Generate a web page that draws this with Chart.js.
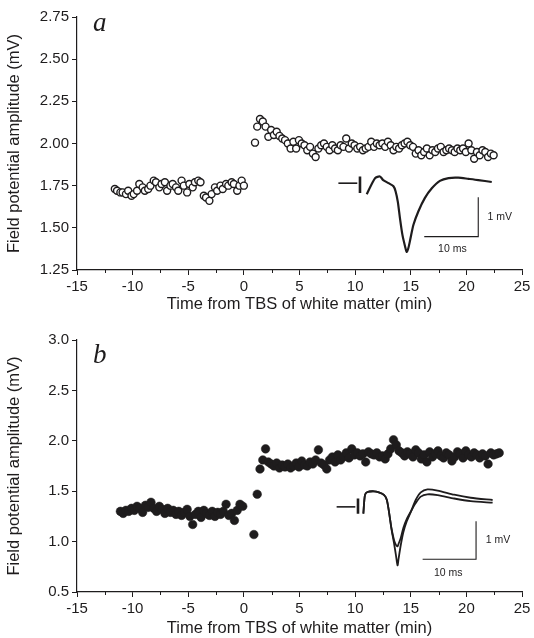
<!DOCTYPE html>
<html>
<head>
<meta charset="utf-8">
<script src="https://cdn.jsdelivr.net/npm/chart.js@4.4.1/dist/chart.umd.min.js"></script>
<style>
  body { margin: 0; background: #fff; }
  #wrap { position: relative; width: 534px; height: 638px; }
  #wrap canvas { position: absolute; left: 0; }
</style>
</head>
<body>
<div id="wrap">
  <canvas id="chartA" width="534" height="320" style="top:0"></canvas>
  <canvas id="chartB" width="534" height="318" style="top:320px"></canvas>
</div>
<script>
// panel a - field potential amplitude, open circles
var timeA = [-11.6, -11.4, -11.1, -10.9, -10.6, -10.4, -10.1, -9.9, -9.6, -9.4, -9.1, -8.9, -8.6, -8.4, -8.1, -7.9,
  -7.6, -7.4, -7.1, -6.9, -6.6, -6.4, -6.1, -5.9, -5.6, -5.4, -5.1, -4.9, -4.6, -4.4, -4.1, -3.9, -3.6, -3.4, -3.1,
  -2.9, -2.6, -2.4, -2.1, -1.9, -1.6, -1.4, -1.1, -0.9, -0.6, -0.4, -0.2, 0.0,
  1.0, 1.2, 1.45, 1.7, 1.95, 2.2, 2.45, 2.7, 2.95, 3.2, 3.45, 3.7, 3.95, 4.2, 4.45, 4.7, 4.95, 5.2, 5.45, 5.7,
  5.95, 6.2, 6.45, 6.7, 6.95, 7.2, 7.45, 7.7, 7.95, 8.2, 8.45, 8.7, 8.95, 9.2, 9.45, 9.7, 9.95, 10.2, 10.45, 10.7,
  10.95, 11.2, 11.45, 11.7, 11.95, 12.2, 12.45, 12.7, 12.95, 13.2, 13.45, 13.7, 13.95, 14.2, 14.45, 14.7, 14.95,
  15.2, 15.45, 15.7, 15.95, 16.2, 16.45, 16.7, 16.95, 17.2, 17.45, 17.7, 17.95, 18.2, 18.45, 18.7, 18.95, 19.2,
  19.45, 19.7, 19.95, 20.2, 20.45, 20.7, 20.95, 21.2, 21.45, 21.7, 21.95, 22.2, 22.45];
var ampA = [1.73, 1.72, 1.71, 1.71, 1.70, 1.72, 1.69, 1.70, 1.72, 1.76, 1.74, 1.72, 1.73, 1.75, 1.78, 1.77,
  1.74, 1.76, 1.77, 1.72, 1.75, 1.76, 1.74, 1.72, 1.78, 1.75, 1.71, 1.76, 1.74, 1.77, 1.78, 1.77, 1.69, 1.68, 1.66,
  1.70, 1.74, 1.72, 1.75, 1.73, 1.76, 1.75, 1.77, 1.76, 1.72, 1.75, 1.78, 1.75,
  2.005, 2.10, 2.145, 2.13, 2.10, 2.04, 2.08, 2.05, 2.07, 2.045, 2.03, 2.02, 2.00, 1.97, 2.01, 1.97, 2.02, 2.00, 1.99, 1.96,
  1.98, 1.94, 1.92, 1.97, 1.99, 2.00, 1.98, 1.96, 1.99, 1.97, 1.96, 1.99, 1.98, 2.03, 1.97, 2.00, 1.99, 1.97, 1.98, 1.96,
  1.97, 1.98, 2.01, 1.98, 2.00, 1.99, 2.00, 1.98, 2.01, 1.99, 1.96, 1.98, 1.97, 1.99, 2.00, 2.01, 1.99,
  1.98, 1.94, 1.96, 1.93, 1.95, 1.97, 1.93, 1.96, 1.95, 1.97, 1.98, 1.95, 1.96, 1.97, 1.96, 1.95, 1.97,
  1.96, 1.97, 1.95, 2.00, 1.96, 1.91, 1.95, 1.93, 1.96, 1.95, 1.92, 1.94, 1.93];

// panel b - filled circles
var timeB = [-11.1, -10.85, -10.6, -10.35, -10.1, -9.85, -9.6, -9.35, -9.1, -8.85, -8.6, -8.35, -8.1, -7.85, -7.6,
  -7.35, -7.1, -6.85, -6.6, -6.35, -6.1, -5.85, -5.6, -5.35, -5.1, -4.85, -4.6, -4.35, -4.1, -3.85, -3.6, -3.35,
  -3.1, -2.85, -2.6, -2.35, -2.1, -1.85, -1.6, -1.35, -1.1, -0.85, -0.6, -0.35, -0.1,
  0.9, 1.2, 1.45, 1.7, 1.95, 2.2, 2.45, 2.7, 2.95, 3.2, 3.45, 3.7, 3.95, 4.2, 4.45, 4.7, 4.95, 5.2, 5.45, 5.7,
  5.95, 6.2, 6.45, 6.7, 6.95, 7.2, 7.45, 7.7, 7.95, 8.2, 8.45, 8.7, 8.95, 9.2, 9.45, 9.7, 9.95, 10.2, 10.45, 10.7,
  10.95, 11.2, 11.45, 11.7, 11.95, 12.2, 12.45, 12.7, 12.95, 13.2, 13.45, 13.7, 13.95, 14.2, 14.45, 14.7, 14.95,
  15.2, 15.45, 15.7, 15.95, 16.2, 16.45, 16.7, 16.95, 17.2, 17.45, 17.7, 17.95, 18.2, 18.45, 18.7, 18.95, 19.2,
  19.45, 19.7, 19.95, 20.2, 20.45, 20.7, 20.95, 21.2, 21.45, 21.7, 21.95, 22.2, 22.45, 22.7, 22.95];
var ampB = [1.30, 1.28, 1.31, 1.30, 1.33, 1.31, 1.35, 1.33, 1.29, 1.36, 1.34, 1.39, 1.33, 1.30, 1.35,
  1.32, 1.28, 1.33, 1.29, 1.31, 1.27, 1.30, 1.26, 1.29, 1.32, 1.25, 1.17, 1.27, 1.30, 1.24, 1.31, 1.28,
  1.26, 1.30, 1.25, 1.29, 1.27, 1.30, 1.37, 1.26, 1.28, 1.21, 1.31, 1.37, 1.35,
  1.07, 1.47, 1.72, 1.81, 1.92, 1.79, 1.77, 1.75, 1.78, 1.73, 1.76, 1.74, 1.77, 1.73, 1.75, 1.78, 1.74, 1.80, 1.76, 1.75,
  1.79, 1.77, 1.81, 1.91, 1.78, 1.76, 1.72, 1.81, 1.84, 1.79, 1.86, 1.81, 1.84, 1.88, 1.83, 1.92, 1.86, 1.88, 1.85, 1.87,
  1.79, 1.89, 1.87, 1.86, 1.88, 1.84, 1.85, 1.82, 1.87, 1.92, 2.01, 1.96, 1.90, 1.88, 1.85, 1.89, 1.87,
  1.84, 1.91, 1.88, 1.82, 1.86, 1.79, 1.89, 1.84, 1.87, 1.90, 1.85, 1.83, 1.88, 1.86, 1.80, 1.84, 1.89,
  1.87, 1.83, 1.90, 1.86, 1.84, 1.88, 1.86, 1.83, 1.87, 1.85, 1.77, 1.88, 1.86, 1.87, 1.88];

// inset traces (ms after start of sweep, mV from baseline)
var baseMs = [0, 3.5];
var baseMv = [0, 0];
var artMs = [4.0, 4.0];
var artMvA = [0.17, -0.25];
var artMvB = [0.22, -0.18];

var traceA_ms = [5.25, 6.8, 7.7, 8.3, 9.3, 10.2, 10.6, 11.0, 11.4, 11.85, 12.35, 12.65, 12.96, 13.3, 13.9, 14.8,
  16.0, 17.3, 18.8, 20.4, 22.2, 24.1, 25.9, 28.4];
var traceA_mv = [-0.28, 0.13, 0.17, 0.08, 0, -0.08, -0.21, -0.47, -0.89, -1.31, -1.61, -1.75, -1.65, -1.44, -1.06,
  -0.72, -0.38, -0.13, 0.06, 0.13, 0.14, 0.11, 0.08, 0.03];

var traceB_ms = [5.0, 5.3, 5.75, 7.0, 7.9, 8.9, 9.4, 9.8, 10.25, 10.75, 11.1, 11.4, 11.6, 12.0, 12.5, 13.1, 13.9,
  14.8, 15.75, 17.0, 18.9, 22.0, 25.1, 29.2];
var traceB_post = [-0.18, 0.31, 0.39, 0.41, 0.38, 0.31, 0.18, -0.13, -0.57, -0.96, -1.27, -1.54, -1.36, -1.01, -0.66,
  -0.39, -0.13, 0.18, 0.38, 0.46, 0.43, 0.32, 0.24, 0.18];
var traceB_pre = [-0.18, 0.31, 0.39, 0.41, 0.38, 0.31, 0.18, -0.13, -0.55, -0.88, -1.0, -1.04, -0.97, -0.82, -0.55,
  -0.33, -0.12, 0.1, 0.27, 0.33, 0.31, 0.22, 0.15, 0.11];

// scale bars: 10 ms, 1 mV
var barA_ms = [15.9, 25.9, 25.9];
var barA_mv = [-1.36, -1.36, -0.36];
var barB_ms = [16.1, 26.1, 26.1];
var barB_mv = [-1.38, -1.38, -0.38];

var yTicksA = [1.25, 1.50, 1.75, 2.00, 2.25, 2.50, 2.75];
var yTicksB = [0.5, 1.0, 1.5, 2.0, 2.5, 3.0];
var xTicks = [-15, -10, -5, 0, 5, 10, 15, 20, 25];

var INK = '#1e1c1d';
var SANS = "'Liberation Sans', Arial, Helvetica, sans-serif";

function pts(xs, ys) {
  var out = [];
  for (var i = 0; i < Math.min(xs.length, ys.length); i++) out.push({x: xs[i], y: ys[i]});
  return out;
}

function traceSet(xs, ys, width, tension) {
  return {
    data: pts(xs, ys), showLine: true, pointRadius: 0, borderColor: INK, borderWidth: width,
    tension: tension || 0, xAxisID: 'xi', yAxisID: 'yi', clip: false
  };
}

// minor ticks, panel letter and scale bar labels
var panelText = {
  id: 'panelText',
  afterDraw: function (chart, args, o) {
    var ctx = chart.ctx, area = chart.chartArea;
    var x = chart.scales.x, xi = chart.scales.xi, yi = chart.scales.yi;
    ctx.save();
    ctx.strokeStyle = INK;
    ctx.lineWidth = 1;
    for (var v = -12.5; v < 25; v += 5) {
      var px = Math.round(x.getPixelForValue(v)) + 0.5;
      ctx.beginPath();
      ctx.moveTo(px, area.bottom);
      ctx.lineTo(px, area.bottom + 3);
      ctx.stroke();
    }
    ctx.fillStyle = INK;
    ctx.font = 'italic 27px "Liberation Serif", "DejaVu Serif", serif';
    ctx.textBaseline = 'alphabetic';
    ctx.textAlign = 'left';
    ctx.fillText(o.letter, area.left + o.letterPos[0], area.top + o.letterPos[1]);
    ctx.font = '10.5px ' + SANS;
    ctx.textBaseline = 'middle';
    ctx.fillText('1 mV', xi.getPixelForValue(o.mvLabel[0]), yi.getPixelForValue(o.mvLabel[1]));
    ctx.textAlign = 'center';
    ctx.fillText('10 ms', xi.getPixelForValue(o.msLabel[0]), yi.getPixelForValue(o.msLabel[1]));
    ctx.restore();
  }
};

function makeOptions(p) {
  return {
    responsive: false,
    animation: false,
    devicePixelRatio: 1,
    layout: { padding: { top: p.padTop, right: 12, bottom: 0, left: 0 } },
    plugins: {
      legend: { display: false },
      tooltip: { enabled: false },
      panelText: p.text
    },
    scales: {
      x: {
        type: 'linear', min: -15, max: 25,
        afterBuildTicks: function (s) { s.ticks = xTicks.map(function (v) { return {value: v}; }); },
        ticks: { color: INK, font: { family: SANS, size: 15 }, padding: 3, maxRotation: 0 },
        grid: { drawOnChartArea: false, tickLength: 5, color: INK, tickWidth: 1 },
        border: { color: INK, width: 1.2 },
        title: { display: true, text: 'Time from TBS of white matter (min)', color: INK,
          font: { family: SANS, size: 16.5 }, padding: { top: 0, bottom: p.titlePadX } },
        afterFit: function (s) { s.height = p.xHeight; }
      },
      y: {
        type: 'linear', min: p.yMin, max: p.yMax,
        afterBuildTicks: function (s) { s.ticks = p.yTicks.map(function (v) { return {value: v}; }); },
        ticks: { color: INK, font: { family: SANS, size: 15 }, padding: 3,
          callback: function (v) { return Number(v).toFixed(p.digits); } },
        grid: { drawOnChartArea: false, tickLength: 5, color: INK, tickWidth: 1 },
        border: { color: INK, width: 1.2 },
        title: { display: true, text: 'Field potential amplitude (mV)', color: INK,
          font: { family: SANS, size: 16.5 }, padding: { top: 5, bottom: 0 } },
        afterFit: function (s) { s.width = 77; }
      },
      xi: { type: 'linear', display: false, min: p.inset[0], max: p.inset[1] },
      yi: { type: 'linear', display: false, min: p.inset[2], max: p.inset[3] }
    }
  };
}

//panel a
var ctxA = document.getElementById('chartA').getContext('2d');
var chartA = new Chart(ctxA, {
  type: 'scatter',
  plugins: [panelText],
  data: {
    datasets: [
      { data: pts(timeA, ampA), pointRadius: 3.5, pointBackgroundColor: '#fff', pointBorderColor: INK,
        pointBorderWidth: 1.4, xAxisID: 'x', yAxisID: 'y' },
      traceSet(baseMs, baseMv, 1.6),
      traceSet(artMs, artMvA, 2.6),
      traceSet(traceA_ms, traceA_mv, 2.2, 0.25),
      traceSet(barA_ms, barA_mv, 1.1)
    ]
  },
  options: makeOptions({
    padTop: 17, xHeight: 50, titlePadX: 6, yMin: 1.25, yMax: 2.75, yTicks: yTicksA, digits: 2,
    inset: [-48.4, 34.0, -2.21, 4.23],
    text: { letter: 'a', letterPos: [16, 14], mvLabel: [27.6, -0.87], msLabel: [21.1, -1.69] }
  })
});

//panel b
var ctxB = document.getElementById('chartB').getContext('2d');
var chartB = new Chart(ctxB, {
  type: 'scatter',
  plugins: [panelText],
  data: {
    datasets: [
      { data: pts(timeB, ampB), pointRadius: 4.3, pointBackgroundColor: INK, pointBorderColor: INK,
        pointBorderWidth: 0.5, xAxisID: 'x', yAxisID: 'y' },
      traceSet(baseMs, baseMv, 1.6),
      traceSet(artMs, artMvB, 2.6),
      traceSet(traceB_ms, traceB_pre, 1.8, 0.25),
      traceSet(traceB_ms, traceB_post, 1.8, 0.25),
      traceSet(barB_ms, barB_mv, 1.1)
    ]
  },
  options: makeOptions({
    padTop: 20, xHeight: 46, titlePadX: 0, yMin: 0.5, yMax: 3.0, yTicks: yTicksB, digits: 1,
    inset: [-48.6, 34.7, -2.24, 4.39],
    text: { letter: 'b', letterPos: [16, 23], mvLabel: [27.9, -0.88], msLabel: [20.9, -1.75] }
  })
});
</script>
</body>
</html>
